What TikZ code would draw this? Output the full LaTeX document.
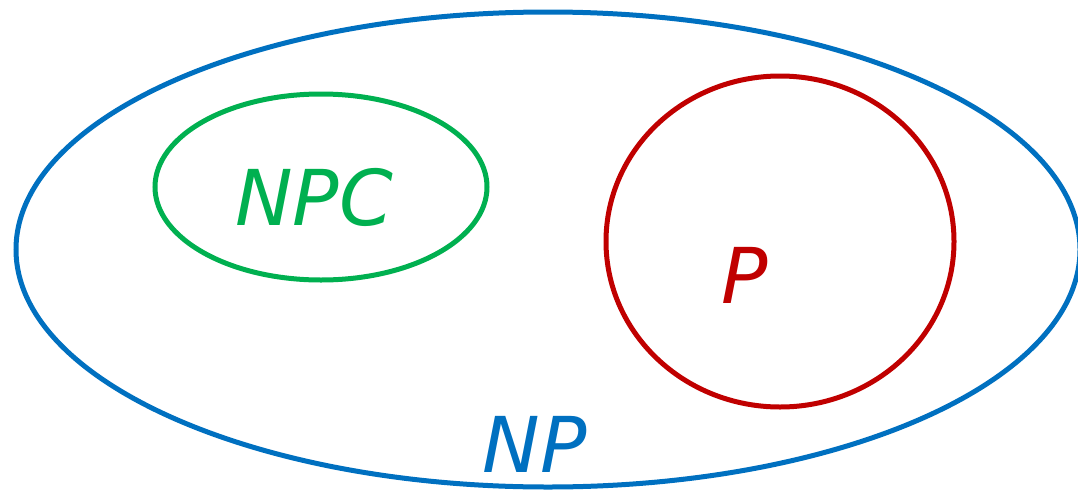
\documentclass[tikz,border=0pt]{standalone}
\usepackage{fontspec}
\setmainfont{DejaVu Sans}
\definecolor{npblue}{HTML}{0070C0}
\definecolor{npcgreen}{HTML}{00B050}
\definecolor{pred}{HTML}{C00000}
\begin{document}
\begin{tikzpicture}[x=1pt,y=-1pt,
  setline/.style={line width=5pt},
  setlabel/.style={font=\fontsize{77}{77}\selectfont\itshape, anchor=base, inner sep=0pt}]
\useasboundingbox (0,0) rectangle (1078,490);
\clip (0,0) rectangle (1078,490);
% NP: the outer class
\draw[setline, npblue] (548,249.5) ellipse [x radius=532, y radius=237.5];
% NPC inside NP
\draw[setline, npcgreen] (321,187) ellipse [x radius=166, y radius=93];
% P inside NP
\draw[setline, pred] (780,241.5) ellipse [x radius=174, y radius=165.5];
\node[setlabel, text=npcgreen] (npc) at (314,225) {NPC};
\node[setlabel, text=pred] (p) at (745,303) {P};
\node[setlabel, text=npblue] (np) at (535,472) {NP};
\end{tikzpicture}
\end{document}
